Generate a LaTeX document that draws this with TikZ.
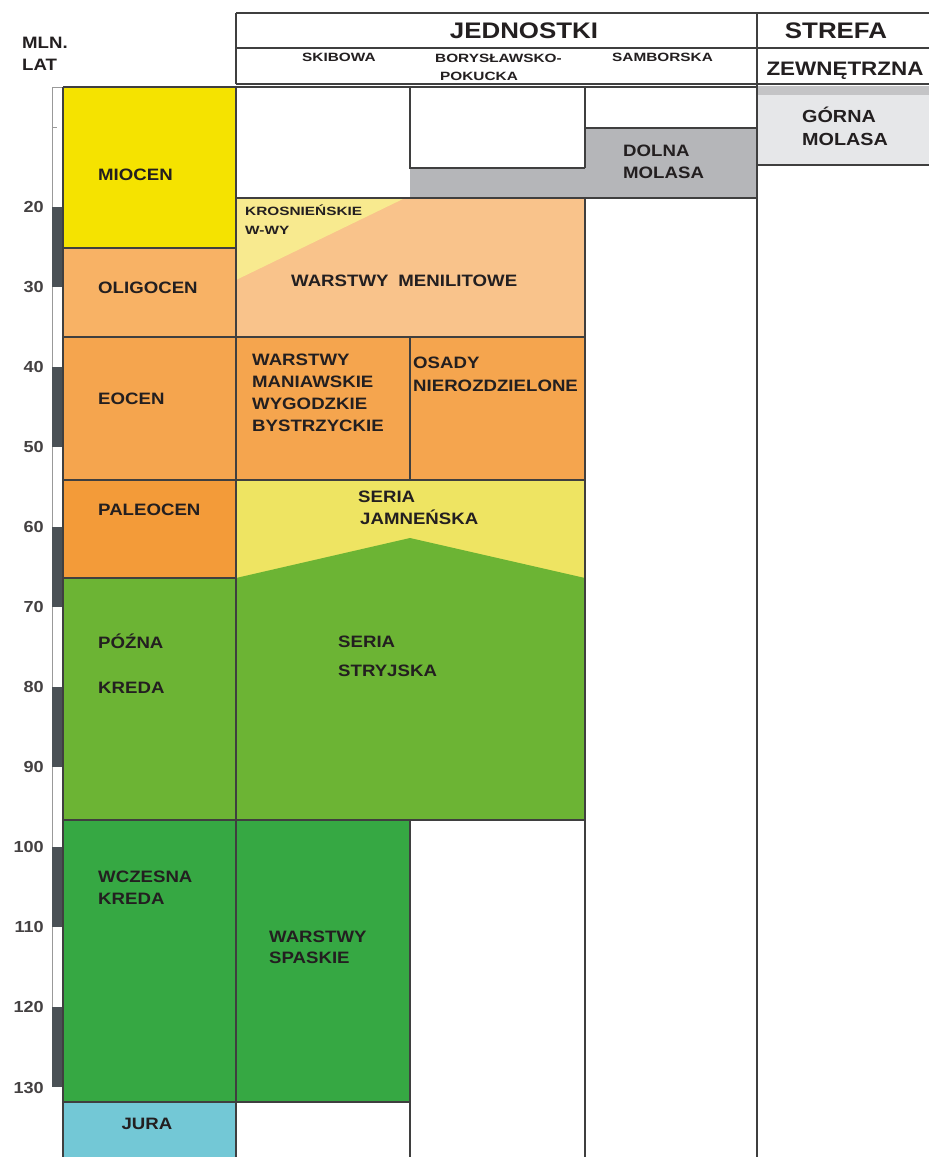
\documentclass[tikz,border=0pt]{standalone}
\usepackage{fontspec}
\setmainfont{Liberation Sans}
\newfontfamily\fS[FakeStretch=1.28]{Liberation Sans}
\newfontfamily\fM[FakeStretch=1.13]{Liberation Sans}
\newfontfamily\fH[FakeStretch=1.15]{Liberation Sans}
\definecolor{txt}{HTML}{231F20}
\definecolor{lineC}{HTML}{3F3F3F}
\definecolor{axisC}{HTML}{4A5156}
\definecolor{miocen}{HTML}{F5E300}
\definecolor{oligo}{HTML}{F8B265}
\definecolor{eocen}{HTML}{F5A54E}
\definecolor{paleo}{HTML}{F39B39}
\definecolor{menil}{HTML}{F9C38B}
\definecolor{krosn}{HTML}{F8EA8F}
\definecolor{jamn}{HTML}{EEE462}
\definecolor{lateK}{HTML}{6CB434}
\definecolor{earlyK}{HTML}{36A843}
\definecolor{jura}{HTML}{73C8D6}
\definecolor{dolna}{HTML}{B5B6B9}
\definecolor{gorna}{HTML}{E6E7E9}
\definecolor{gband}{HTML}{C4C4C6}
\tikzset{
  bd/.style={draw=lineC, line width=1.1pt},
  bdthick/.style={draw=lineC, line width=1.7pt},
  lblS/.style={font=\fS\bfseries\fontsize{12}{14}\selectfont, text=txt, inner sep=0pt, text height=8.6pt, text depth=0pt, anchor=west},
  lblM/.style={font=\fM\bfseries\fontsize{16.5}{19}\selectfont, text=txt, inner sep=0pt, text height=11.8pt, text depth=0pt, anchor=west},
  lblH/.style={font=\fH\bfseries\fontsize{22.5}{26}\selectfont, text=txt, inner sep=0pt, text height=16.1pt, text depth=0pt, anchor=center},
  tick/.style={font=\fM\bfseries\fontsize{16}{19}\selectfont, text=txt!85, inner sep=0pt, text height=11.5pt, text depth=0pt, anchor=east}
}
\begin{document}
\begin{tikzpicture}[x=1pt,y=-1pt]
\useasboundingbox (0,0) rectangle (929,1157);
\fill[white] (0,0) rectangle (929,1157);

% ---- epoch column fills
\fill[miocen] (63,87) rectangle (236,248);
\fill[oligo] (63,248) rectangle (236,337);
\fill[eocen] (63,337) rectangle (236,480);
\fill[paleo] (63,480) rectangle (236,578);
\fill[lateK] (63,578) rectangle (236,820);
\fill[earlyK] (63,820) rectangle (236,1102);
\fill[jura] (63,1102) rectangle (236,1157);

% ---- unit fills
\fill[menil] (236,198) rectangle (585,337);
\fill[krosn] (236,198) -- (405,198) -- (236,280) -- cycle;
\fill[eocen] (236,337) rectangle (585,480);
\fill[jamn] (236,480) rectangle (585,578);
\fill[lateK] (236,578) -- (410,538) -- (585,578) -- (585,820) -- (236,820) -- cycle;
\fill[earlyK] (236,820) rectangle (410,1102);
\fill[dolna] (410,168) rectangle (585,198);
\fill[dolna] (585,128) rectangle (757,198);
\fill[gband] (757,86) rectangle (929,95);
\fill[gorna] (757,95) rectangle (929,165);

% ---- age axis bar
\draw[draw=gray!80, line width=0.8pt] (52,87) -- (52,1087);
\draw[draw=gray!80, line width=0.8pt] (52,87) -- (62,87);
\draw[draw=gray!80, line width=0.8pt] (52,127) -- (57,127);
\foreach \a/\b in {207/287,367/447,527/607,687/767,847/927,1007/1087}{
  \fill[axisC] (51.5,\a) rectangle (62,\b);
}

% ---- header
\draw[bd] (236,13) -- (929,13);
\draw[bd] (236,48) -- (929,48);
\draw[bd] (236,84) -- (929,84);
\draw[bd] (236,13) -- (236,84);
\draw[bd] (757,13) -- (757,84);

% ---- epoch column lines
\draw[bd] (63,87) -- (757,87);
\draw[bd] (63,87) -- (63,1157);
\draw[bd] (236,87) -- (236,1157);
\foreach \yy in {248,337,480,578,820,1102}{
  \draw[bd] (63,\yy) -- (236,\yy);
}

% ---- unit lines
\draw[bd] (236,198) -- (757,198);
\draw[bd] (410,87) -- (410,168) -- (585,168);
\draw[bd] (585,87) -- (585,128) -- (757,128);
\draw[bd] (585,128) -- (585,168);
\draw[bd] (236,337) -- (585,337);
\draw[bd] (236,480) -- (585,480);
\draw[bd] (410,337) -- (410,480);
\draw[bd] (236,820) -- (585,820);
\draw[bd] (410,820) -- (410,1157);
\draw[bd] (236,1102) -- (410,1102);
\draw[bdthick] (585,198) -- (585,1157);
\draw[bdthick] (757,84) -- (757,1157);
\draw[bd] (757,165) -- (929,165);

% ---- header texts
\node[lblH] (tJed) at (524,30) {JEDNOSTKI};
\node[lblH] (tStr) at (836,30) {STREFA};
\node[lblH, font=\fH\bfseries\fontsize{19.5}{23}\selectfont, text height=14pt] (tZew) at (845,68) {ZEWNĘTRZNA};
\node[lblM] (tMln) at (22,43) {MLN.};
\node[lblM] (tLat) at (22,65) {LAT};
\node[lblS] (tSki) at (302,57.5) {SKIBOWA};
\node[lblS] (tBor1) at (435,58) {BORYSŁAWSKO-};
\node[lblS] (tBor2) at (440,76) {POKUCKA};
\node[lblS] (tSam) at (612,57) {SAMBORSKA};

% ---- tick labels
\foreach \v/\yy in {20/207,30/287,40/367,50/447,60/527,70/607,80/687,90/767,100/847,110/927,120/1007,130/1088}{
  \node[tick] (k\v) at (44,\yy) {\v};
}

% ---- epoch texts
\node[lblM] (eMio) at (98,175) {MIOCEN};
\node[lblM] (eOli) at (98,287.5) {OLIGOCEN};
\node[lblM] (eEoc) at (98,399) {EOCEN};
\node[lblM] (ePal) at (98,510) {PALEOCEN};
\node[lblM] (ePoz) at (98,643) {PÓŹNA};
\node[lblM] (eKr1) at (98,688) {KREDA};
\node[lblM] (eWcz) at (98,877) {WCZESNA};
\node[lblM] (eKr2) at (98,899) {KREDA};
\node[lblM, anchor=center] (eJur) at (147,1124) {JURA};

% ---- unit texts
\node[lblS] (uKro1) at (245,211) {KROSNIEŃSKIE};
\node[lblS] (uKro2) at (245,230) {W-WY};
\node[lblM] (uMen) at (291,281) {WARSTWY\hspace{0.6em}MENILITOWE};
\node[lblM] (uWm1) at (252,360) {WARSTWY};
\node[lblM] (uWm2) at (252,382) {MANIAWSKIE};
\node[lblM] (uWm3) at (252,404) {WYGODZKIE};
\node[lblM] (uWm4) at (252,426) {BYSTRZYCKIE};
\node[lblM] (uOs1) at (413,363) {OSADY};
\node[lblM] (uOs2) at (413,386) {NIEROZDZIELONE};
\node[lblM] (uJa1) at (358,497) {SERIA};
\node[lblM] (uJa2) at (360,519) {JAMNEŃSKA};
\node[lblM] (uSt1) at (338,642) {SERIA};
\node[lblM] (uSt2) at (338,671) {STRYJSKA};
\node[lblM] (uSp1) at (269,937) {WARSTWY};
\node[lblM] (uSp2) at (269,958) {SPASKIE};
\node[lblM] (uDo1) at (623,151) {DOLNA};
\node[lblM] (uDo2) at (623,173) {MOLASA};
\node[lblM, font=\fM\bfseries\fontsize{17.5}{20}\selectfont, text height=12.5pt] (uGo1) at (802,116) {GÓRNA};
\node[lblM, font=\fM\bfseries\fontsize{17.5}{20}\selectfont, text height=12.5pt] (uGo2) at (802,139) {MOLASA};
\end{tikzpicture}
\end{document}
